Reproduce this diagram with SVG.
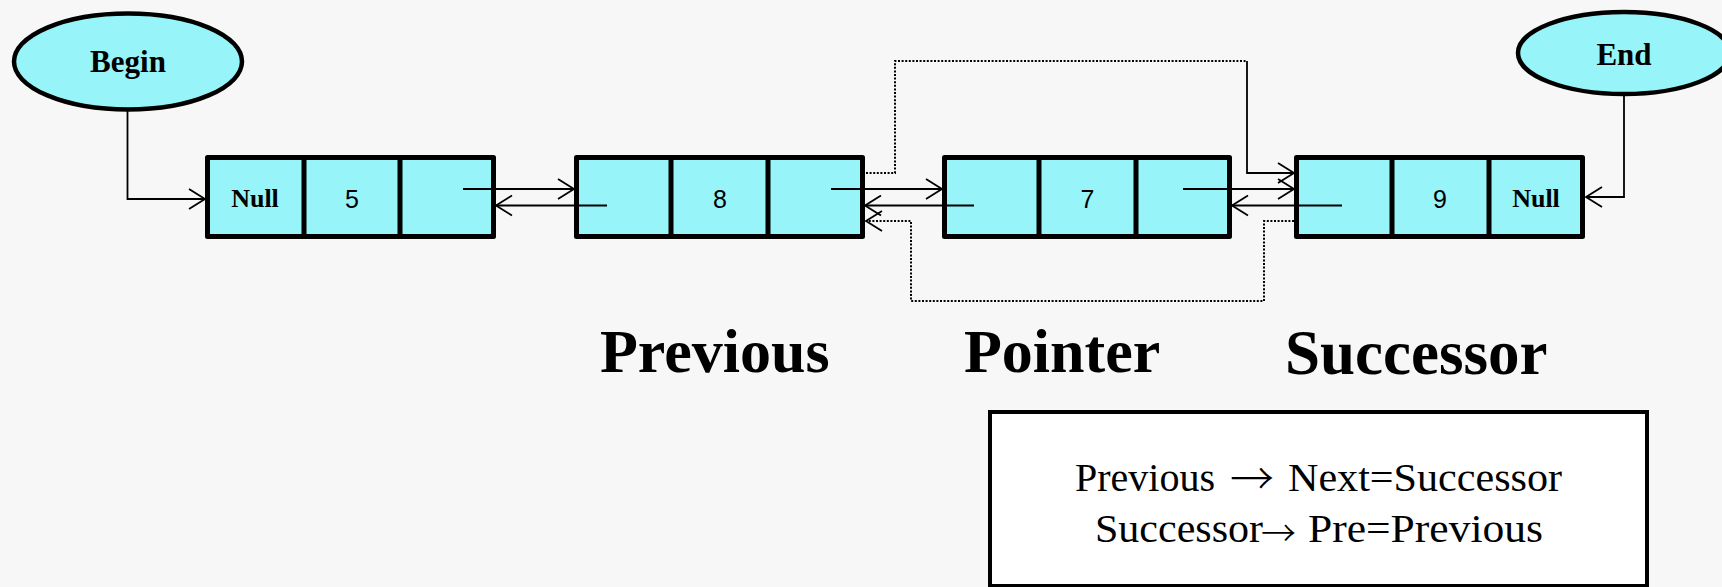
<svg xmlns="http://www.w3.org/2000/svg" width="1722" height="587" viewBox="0 0 1722 587">
  <defs>
    <style>
      .bg { fill: #f7f7f7; }
      .cell { fill: #97f4f8; stroke: #000; stroke-width: 5; stroke-linejoin: round; }
      .div { stroke: #000; stroke-width: 5; }
      .ell { fill: #97f4f8; stroke: #000; stroke-width: 4.5; }
      .tb { font-family: "Liberation Serif", "Times New Roman", serif; font-weight: bold; fill: #000; text-anchor: middle; }
      .num { font-family: "Liberation Sans", Arial, sans-serif; font-size: 25px; fill: #000; text-anchor: middle; }
      .big { font-family: "Liberation Serif", "Times New Roman", serif; font-weight: bold; fill: #000; }
      .formula { font-family: "Liberation Serif", "Times New Roman", serif; font-size: 40px; fill: #000; }
      .arrow { font-family: "Noto Sans CJK SC", "DejaVu Sans", sans-serif; font-weight: 300; fill: #000; }
      .conn { fill: none; stroke: #000; stroke-width: 1.8; }
      .dot { fill: none; stroke: #000; stroke-width: 2; stroke-dasharray: 2 1.6; }
      .box { fill: #ffffff; stroke: #000; stroke-width: 4; }
    </style>
    <marker id="arr" markerUnits="userSpaceOnUse" markerWidth="20" markerHeight="24" viewBox="-18 -12 20 24" refX="0" refY="0" orient="auto" overflow="visible">
      <path d="M-16,-10 L0,0 L-16,10" fill="none" stroke="#000" stroke-width="1.8" stroke-dasharray="none"/>
    </marker>
  </defs>

  <rect class="bg" x="0" y="0" width="1722" height="587"/>

  <g id="begin">
    <ellipse class="ell" cx="128" cy="61.5" rx="114" ry="48"/>
    <text class="tb" x="128" y="72" font-size="31">Begin</text>
  </g>

  <g id="end">
    <ellipse class="ell" cx="1624" cy="53" rx="106" ry="41"/>
    <text class="tb" x="1624" y="65" font-size="31">End</text>
  </g>

  <g id="node1">
    <rect class="cell" x="207.5" y="157.5" width="286" height="79"/>
    <line class="div" x1="304" y1="157.5" x2="304" y2="236.5"/>
    <line class="div" x1="400" y1="157.5" x2="400" y2="236.5"/>
    <text class="tb" x="255" y="207" font-size="26">Null</text>
    <text class="num" x="352" y="207.5">5</text>
  </g>

  <g id="node2">
    <rect class="cell" x="576.5" y="157.5" width="286" height="79"/>
    <line class="div" x1="671" y1="157.5" x2="671" y2="236.5"/>
    <line class="div" x1="768" y1="157.5" x2="768" y2="236.5"/>
    <text class="num" x="720" y="207.5">8</text>
  </g>

  <g id="node3">
    <rect class="cell" x="944.5" y="157.5" width="285" height="79"/>
    <line class="div" x1="1039" y1="157.5" x2="1039" y2="236.5"/>
    <line class="div" x1="1136" y1="157.5" x2="1136" y2="236.5"/>
    <text class="num" x="1087.5" y="207.5">7</text>
  </g>

  <g id="node4">
    <rect class="cell" x="1296.5" y="157.5" width="286" height="79"/>
    <line class="div" x1="1392" y1="157.5" x2="1392" y2="236.5"/>
    <line class="div" x1="1489" y1="157.5" x2="1489" y2="236.5"/>
    <text class="num" x="1440" y="207.5">9</text>
    <text class="tb" x="1536" y="207" font-size="26">Null</text>
  </g>

  <g id="connectors">
    <path class="conn" d="M127.5,109.5 V199 H205" marker-end="url(#arr)"/>
    <path class="conn" d="M1624,94 V197 H1586" marker-end="url(#arr)"/>

    <path class="conn" d="M463,189 H574" marker-end="url(#arr)"/>
    <path class="conn" d="M607,205.5 H496" marker-end="url(#arr)"/>
    <path class="conn" d="M831,189 H942" marker-end="url(#arr)"/>
    <path class="conn" d="M974,205.5 H865" marker-end="url(#arr)"/>
    <path class="conn" d="M1183,189 H1294" marker-end="url(#arr)"/>
    <path class="conn" d="M1342,205.5 H1232" marker-end="url(#arr)"/>

    <path class="dot" d="M866,173 H895 V61 H1247"/>
    <path class="conn" d="M1247,61 V173 H1294" marker-end="url(#arr)"/>

    <path class="dot" d="M1294,221 H1264 V301 H911 V221 H866" marker-end="url(#arr)"/>
  </g>

  <g id="labels">
    <text class="big" x="600" y="372" font-size="62">Previous</text>
    <text class="big" x="964" y="372" font-size="62">Pointer</text>
    <text class="big" x="1285" y="374" font-size="63">Successor</text>
  </g>

  <g id="note">
    <rect class="box" x="990" y="412" width="657" height="174"/>
    <text class="formula" x="1075" y="491" textLength="140" lengthAdjust="spacingAndGlyphs">Previous</text>
    <text class="arrow" x="1230" y="495" font-size="44">→</text>
    <text class="formula" x="1288" y="491" textLength="274" lengthAdjust="spacingAndGlyphs">Next=Successor</text>
    <text class="formula" x="1095" y="542" textLength="168" lengthAdjust="spacingAndGlyphs">Successor</text>
    <text class="arrow" x="1261" y="546" font-size="35">→</text>
    <text class="formula" x="1308" y="542" textLength="235" lengthAdjust="spacingAndGlyphs">Pre=Previous</text>
  </g>
</svg>
